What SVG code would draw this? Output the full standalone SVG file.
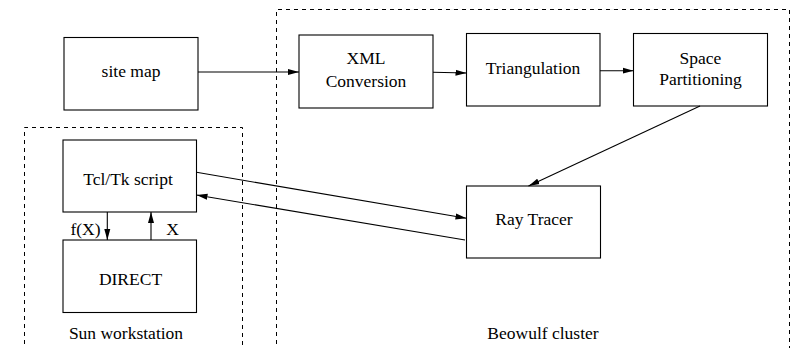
<svg xmlns="http://www.w3.org/2000/svg" width="793" height="348" viewBox="0 0 793 348">
  <style>
    .box { fill: #fff; stroke: #000; stroke-width: 1.1; }
    .group { fill: none; stroke: #000; stroke-width: 1; stroke-dasharray: 4 4; }
    .edge { fill: none; stroke: #000; stroke-width: 1.1; marker-end: url(#head); }
    text { font-family: "Liberation Serif", "Times New Roman", serif; font-size: 17.5px; fill: #000; text-anchor: middle; }
  </style>
  <defs>
    <marker id="head" markerWidth="11" markerHeight="8" refX="11" refY="4" orient="auto" markerUnits="userSpaceOnUse">
      <path d="M0,1 L11,4 L0,7 Z" fill="#000"/>
    </marker>
  </defs>

  <rect fill="#fff" width="793" height="348"/>

  <!-- machine boundaries -->
  <g id="beowulf-cluster">
    <path class="group" d="M276.5,352 V9.5 H789.5 V352"/>
    <text x="543" y="339">Beowulf cluster</text>
  </g>
  <g id="sun-workstation">
    <path class="group" d="M24.5,352 V127.5 H242.5 V352"/>
    <text x="126" y="339">Sun workstation</text>
  </g>

  <g id="site-map">
    <rect class="box" x="64" y="37.5" width="134" height="72.5"/>
    <text x="131" y="77">site map</text>
  </g>
  <g id="xml-conversion">
    <rect class="box" x="299" y="35" width="134" height="73"/>
    <text x="366" y="63.5">XML</text>
    <text x="366" y="87">Conversion</text>
  </g>
  <g id="triangulation">
    <rect class="box" x="466.5" y="33.5" width="133.5" height="72.5"/>
    <text x="533" y="74">Triangulation</text>
  </g>
  <g id="space-partitioning">
    <rect class="box" x="633.5" y="33.5" width="134" height="72.5"/>
    <text x="700.5" y="63.5">Space</text>
    <text x="700.5" y="85">Partitioning</text>
  </g>
  <g id="ray-tracer">
    <rect class="box" x="466.5" y="186" width="134" height="72"/>
    <text x="534" y="225">Ray Tracer</text>
  </g>
  <g id="tcl-tk-script">
    <rect class="box" x="63" y="140" width="133.5" height="72"/>
    <text x="128" y="185">Tcl/Tk script</text>
  </g>
  <g id="direct">
    <rect class="box" x="63" y="240" width="133.5" height="72.5"/>
    <text x="130.5" y="285">DIRECT</text>
  </g>

  <g id="connectors">
    <line class="edge" x1="198" y1="72" x2="299" y2="72"/>
    <line class="edge" x1="433" y1="72.3" x2="466.5" y2="73"/>
    <line class="edge" x1="600" y1="70.7" x2="633.5" y2="70.7"/>
    <line class="edge" x1="700" y1="106" x2="528.5" y2="186"/>
    <line class="edge" x1="196.5" y1="172.3" x2="466.5" y2="218.3"/>
    <line class="edge" x1="465" y1="240" x2="196.5" y2="195"/>
    <line class="edge" x1="107.3" y1="212" x2="107.3" y2="240"/>
    <line class="edge" x1="151" y1="240" x2="151" y2="212"/>
    <text x="85.5" y="234.5">f(X)</text>
    <text x="172.5" y="234.5">X</text>
  </g>
</svg>
